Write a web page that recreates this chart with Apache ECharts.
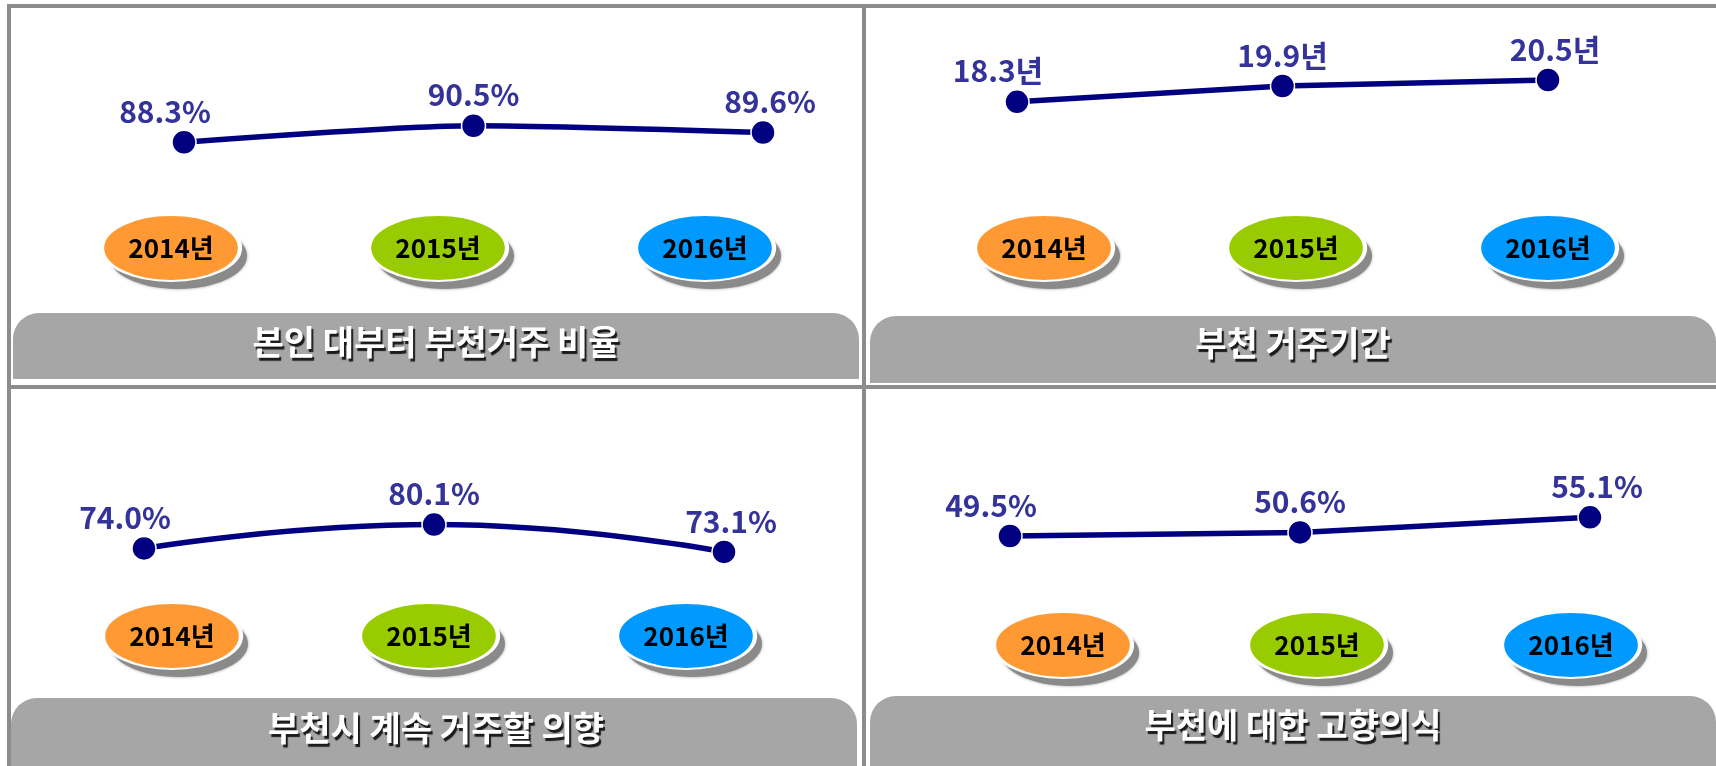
<!DOCTYPE html>
<html>
<head>
<meta charset="utf-8">
<title>부천 거주 관련 지표</title>
<script src="https://cdn.jsdelivr.net/npm/echarts@6/dist/echarts.min.js"></script>
<style>
    html, body { margin: 0; padding: 0; background: #fff; }
    #chart { width: 1716px; height: 766px; }
</style>
</head>
<body>
<div id="chart"></div>
<script>
// 연도 (타원 라벨)
const YEARS = ['2014년', '2015년', '2016년'];
const YEAR_COLORS = ['#ff9933', '#99cc00', '#0099ff'];

// 패널 제목 / 단위
const TITLES = ['본인 대부터 부천거주 비율', '부천 거주기간', '부천시 계속 거주할 의향', '부천에 대한 고향의식'];
const UNITS = ['%', '년', '%', '%'];

// 값
const RESIDE_RATIO = [88.3, 90.5, 89.6];
const RESIDE_YEARS = [18.3, 19.9, 20.5];
const STAY_INTENT = [74.0, 80.1, 73.1];
const HOMETOWN = [49.5, 50.6, 55.1];
const SERIES_VALUES = [RESIDE_RATIO, RESIDE_YEARS, STAY_INTENT, HOMETOWN];

// 패널별 배치 (픽셀)
const PANELS = [
    {line: {left: 184, right: 953, top: 92, height: 112.5}, yMin: 80, yMax: 95, smooth: 0.25,
        oval: {left: 171, right: 1011, cy: 248}, bar: [13, 313, 846, 66], title: [436, 342]},
    {line: {left: 1017, right: 168, top: 35.5, height: 99}, yMin: 15, yMax: 25, smooth: false,
        oval: {left: 1044, right: 168, cy: 248}, bar: [870, 316, 846, 67], title: [1293, 343]},
    {line: {left: 144, right: 992, top: 486, height: 117}, yMin: 60, yMax: 90, smooth: 0.5,
        oval: {left: 172, right: 1030, cy: 636}, bar: [11, 698, 846, 68], title: [436, 728]},
    {line: {left: 1010, right: 126, top: 501, height: 66.8}, yMin: 40, yMax: 60, smooth: false,
        oval: {left: 1063, right: 145, cy: 645}, bar: [870, 696, 846, 70], title: [1293, 725]}
];
const LABEL_DX = [-19, 0, 7];
const ELLIPSE = 'path://M50,0 C77.6,0 100,22.4 100,50 C100,77.6 77.6,100 50,100 C22.4,100 0,77.6 0,50 C0,22.4 22.4,0 50,0 Z';
const FONT = 'Noto Sans CJK KR';

const chart = echarts.init(document.getElementById('chart'));

const grid = [], xAxis = [], yAxis = [], series = [], title = [];
const frame = '#8c8c8c';
const graphic = [
    // 바깥 테두리 / 구분선
    {type: 'rect', shape: {x: 7, y: 4, width: 1709, height: 4}, style: {fill: frame}, silent: true},
    {type: 'rect', shape: {x: 7, y: 4, width: 4, height: 762}, style: {fill: frame}, silent: true},
    {type: 'rect', shape: {x: 862, y: 4, width: 4, height: 762}, style: {fill: frame}, silent: true},
    {type: 'rect', shape: {x: 7, y: 385, width: 1709, height: 4}, style: {fill: frame}, silent: true}
];

PANELS.forEach((p, i) => {
    // 꺾은선 영역
    grid.push(Object.assign({}, p.line));
    xAxis.push({type: 'category', data: YEARS, boundaryGap: false, show: false, gridIndex: i * 2});
    yAxis.push({type: 'value', min: p.yMin, max: p.yMax, show: false, gridIndex: i * 2});
    // 타원 영역
    grid.push({left: p.oval.left, right: p.oval.right, top: p.oval.cy - 10, height: 20});
    xAxis.push({type: 'category', data: YEARS, boundaryGap: false, show: false, gridIndex: i * 2 + 1});
    yAxis.push({type: 'value', min: -1, max: 1, show: false, gridIndex: i * 2 + 1});

    series.push({
        type: 'line',
        xAxisIndex: i * 2,
        yAxisIndex: i * 2,
        data: SERIES_VALUES[i].map((v, k) => ({value: v, label: {offset: [LABEL_DX[k], 0]}})),
        smooth: p.smooth,
        symbol: 'circle',
        symbolSize: 24,
        lineStyle: {color: '#000080', width: 5.5},
        itemStyle: {color: '#000080', borderColor: '#fff', borderWidth: 1.5},
        label: {
            show: true,
            position: 'top',
            distance: 3,
            formatter: params => params.value.toFixed(1) + UNITS[i],
            color: '#333399',
            fontSize: 30,
            fontWeight: 'bold',
            fontFamily: FONT
        },
        silent: true
    });

    // 타원 그림자
    series.push({
        type: 'scatter',
        xAxisIndex: i * 2 + 1,
        yAxisIndex: i * 2 + 1,
        data: YEARS.map(y => [y, 0]),
        symbol: ELLIPSE,
        symbolSize: [138, 66],
        symbolOffset: [7, 8],
        itemStyle: {color: '#8a8a8a', opacity: 1, shadowColor: 'rgba(90,90,90,0.6)', shadowBlur: 3},
        silent: true
    });
    // 연도 타원
    series.push({
        type: 'scatter',
        xAxisIndex: i * 2 + 1,
        yAxisIndex: i * 2 + 1,
        data: YEARS.map((y, k) => ({value: [y, 0], itemStyle: {color: YEAR_COLORS[k]}})),
        symbol: ELLIPSE,
        symbolSize: [138, 66],
        itemStyle: {borderColor: '#fff', borderWidth: 3, opacity: 1},
        label: {
            show: true,
            position: 'inside',
            formatter: params => YEARS[params.dataIndex],
            color: '#000',
            fontSize: 26,
            fontWeight: 'bold',
            fontFamily: FONT
        },
        silent: true
    });

    // 제목 막대
    graphic.push({
        type: 'rect',
        shape: {x: p.bar[0], y: p.bar[1], width: p.bar[2], height: p.bar[3], r: [26, 26, 0, 0]},
        style: {fill: '#a6a6a6'},
        silent: true
    });
    title.push({
        text: TITLES[i],
        left: p.title[0],
        top: p.title[1] - 21,
        textAlign: 'center',
        padding: 0,
        textStyle: {
            color: '#fff',
            fontSize: 34,
            fontWeight: 'bold',
            fontFamily: FONT,
            lineHeight: 42,
            textShadowColor: '#1a1a1a',
            textShadowBlur: 1,
            textShadowOffsetX: 2,
            textShadowOffsetY: 3
        }
    });
});

chart.setOption({
    animation: false,
    backgroundColor: '#fff',
    title: title,
    grid: grid,
    xAxis: xAxis,
    yAxis: yAxis,
    graphic: graphic,
    series: series
});
</script>
</body>
</html>
